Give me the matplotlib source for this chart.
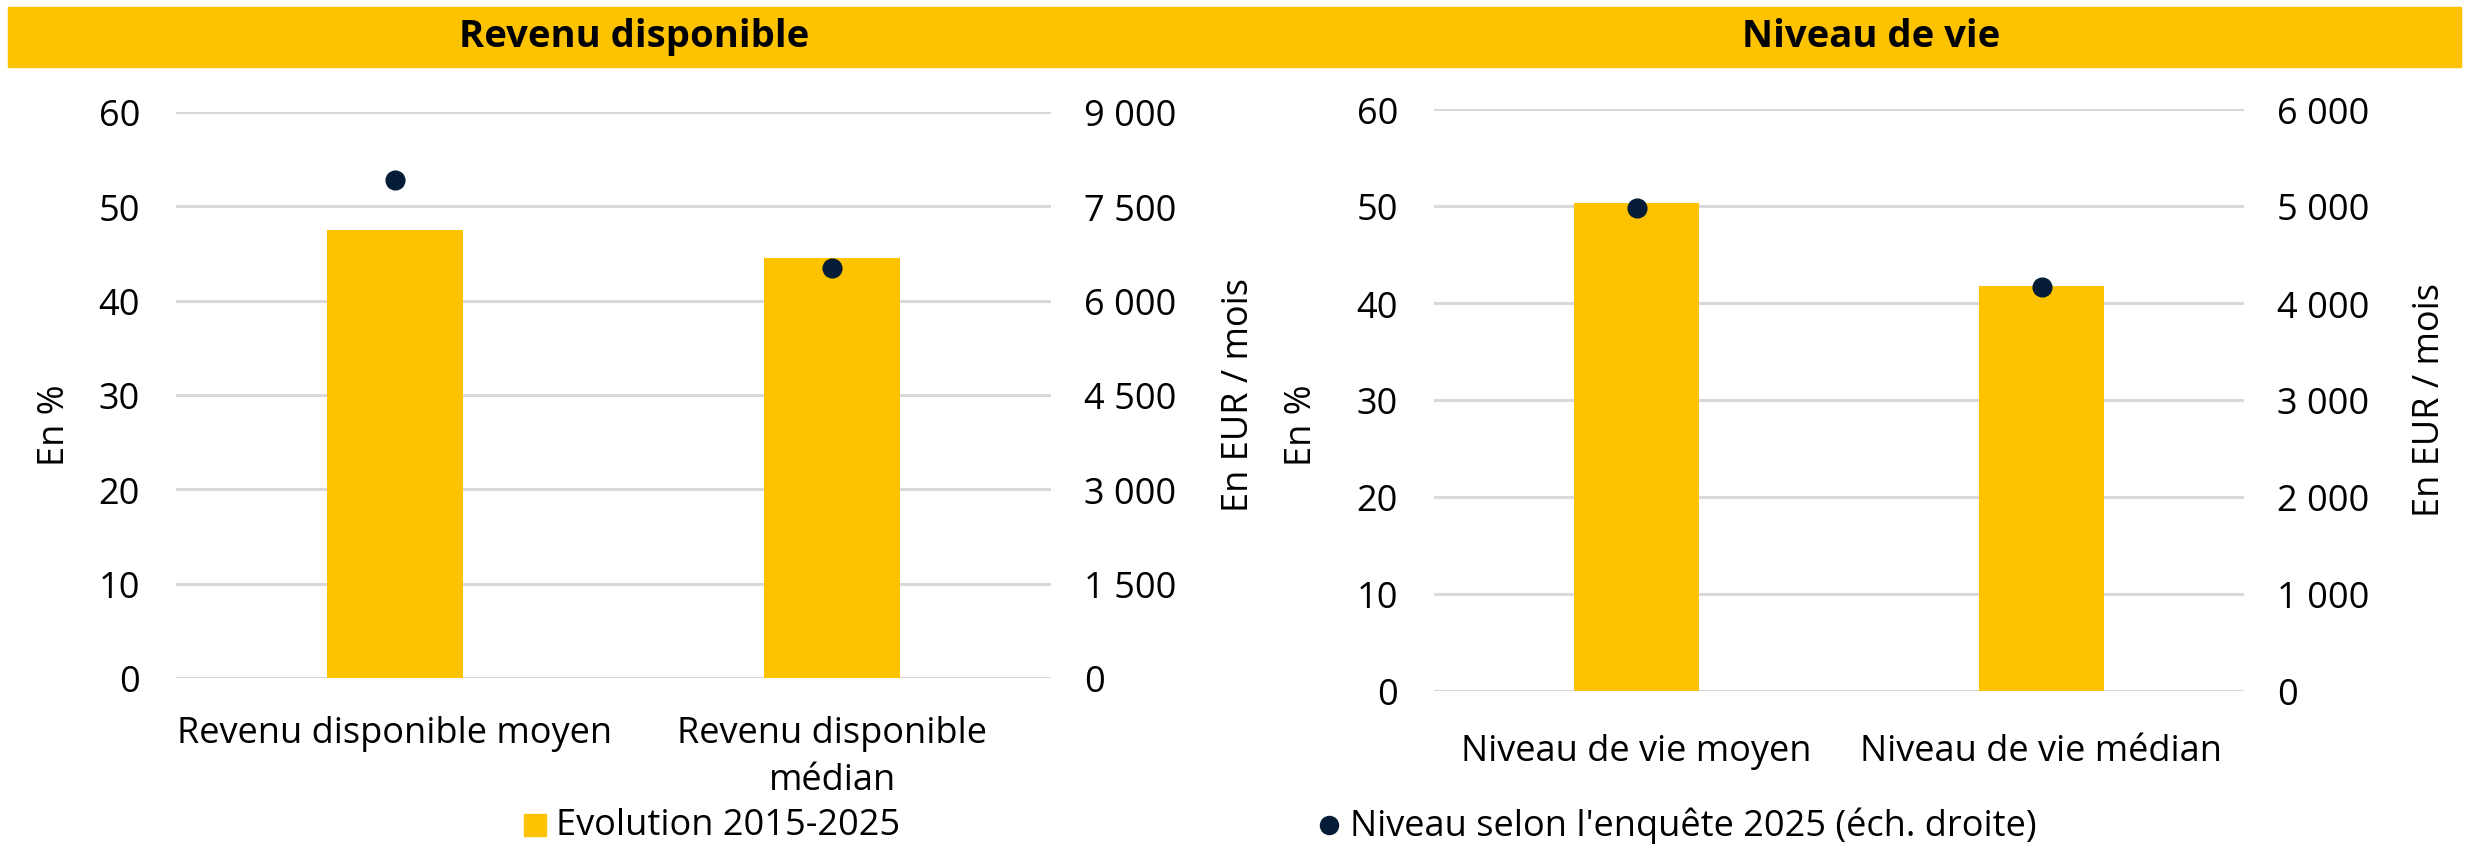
import matplotlib
matplotlib.use("Agg")
import matplotlib.pyplot as plt
from matplotlib.patches import Rectangle
from matplotlib.lines import Line2D
from matplotlib.ticker import FuncFormatter

plt.rcParams['font.family'] = ['Open Sans', 'DejaVu Sans']

# ---- data ----
left_title = "Revenu disponible"
right_title = "Niveau de vie"
left_categories = ["Revenu disponible moyen", "Revenu disponible\nmédian"]
right_categories = ["Niveau de vie moyen", "Niveau de vie médian"]
left_evolution = [47.5, 44.5]        # % (left axis)
left_level = [7925, 6525]            # EUR / mois (right axis)
right_evolution = [50.3, 41.8]
right_level = [4975, 4165]
left_pct_ticks = [0, 10, 20, 30, 40, 50, 60]
left_eur_ticks = [0, 1500, 3000, 4500, 6000, 7500, 9000]
right_pct_ticks = [0, 10, 20, 30, 40, 50, 60]
right_eur_ticks = [0, 1000, 2000, 3000, 4000, 5000, 6000]
legend_bar = "Evolution 2015-2025"
legend_dot = "Niveau selon l'enquête 2025 (éch. droite)"

YELLOW = "#FDC300"
NAVY = "#051C36"
GRID = "#D9D9D9"
FS = 26
TFS = 27.5

W, H = 2466, 845
fig = plt.figure(figsize=(W / 100, H / 100), dpi=100)

def fx(px):
    return px / W

def fy(py):
    return 1 - py / H

def thousands(v, pos):
    return f"{int(v):,}".replace(",", " ")

def panel(rect, cats, evo, lvl, pticks, eticks, xpad):
    ax = fig.add_axes(rect)
    x = list(range(len(cats)))
    ax.set_xlim(-0.5, len(cats) - 0.5)
    ax.set_ylim(pticks[0], pticks[-1])
    ax.set_yticks(pticks)
    ax.yaxis.grid(True, color=GRID, linewidth=2.2)
    ax.set_axisbelow(True)
    ax.bar(x, evo, width=0.31, color=YELLOW, zorder=2)
    ax.set_xticks(x)
    ax.set_xticklabels(cats, fontsize=FS, linespacing=1.4)
    ax.tick_params(axis='x', length=0, pad=xpad)
    ax.tick_params(axis='y', length=0, pad=26, labelsize=FS)
    for s in ax.spines.values():
        s.set_visible(False)
    ax2 = ax.twinx()
    ax2.set_ylim(eticks[0], eticks[-1])
    ax2.set_yticks(eticks)
    ax2.yaxis.set_major_formatter(FuncFormatter(thousands))
    ax2.tick_params(axis='y', length=0, pad=24, labelsize=FS)
    for s in ax2.spines.values():
        s.set_visible(False)
    ax2.plot(x, lvl, linestyle='none', marker='o', markersize=13.5,
             color=NAVY, zorder=3)
    return ax, ax2

# left panel
panel([fx(176), fy(679), fx(1051) - fx(176), fy(113) - fy(679)],
      left_categories, left_evolution, left_level,
      left_pct_ticks, left_eur_ticks, 27)
# right panel
panel([fx(1434), fy(692), fx(2244) - fx(1434), fy(110) - fy(692)],
      right_categories, right_evolution, right_level,
      right_pct_ticks, right_eur_ticks, 30)

# banner
fig.patches.append(Rectangle((fx(8), fy(68)), fx(2461) - fx(8), fy(8) - fy(68),
                             transform=fig.transFigure, color=YELLOW, zorder=0))
fig.text(fx(634), fy(37), left_title, ha='center', va='center',
         fontsize=TFS, fontweight='bold')
fig.text(fx(1871), fy(37), right_title, ha='center', va='center',
         fontsize=TFS, fontweight='bold')

# axis labels
fig.text(fx(55), fy(425), "En %", rotation=90, ha='center', va='center', fontsize=FS)
fig.text(fx(1239), fy(395), "En EUR / mois", rotation=90, ha='center', va='center', fontsize=FS)
fig.text(fx(1302), fy(425), "En %", rotation=90, ha='center', va='center', fontsize=FS)
fig.text(fx(2430), fy(400), "En EUR / mois", rotation=90, ha='center', va='center', fontsize=FS)

# legend
fig.patches.append(Rectangle((fx(524), fy(837)), fx(546) - fx(524), fy(815) - fy(837),
                             transform=fig.transFigure, color=YELLOW))
fig.text(fx(556), fy(826), legend_bar, ha='left', va='center', fontsize=FS)
fig.lines.append(Line2D([fx(1329)], [fy(826)], transform=fig.transFigure,
                        marker='o', markersize=13, color=NAVY, linestyle='none'))
fig.text(fx(1350), fy(826), legend_dot, ha='left', va='center', fontsize=FS)

fig.savefig("out.png", dpi=100)
